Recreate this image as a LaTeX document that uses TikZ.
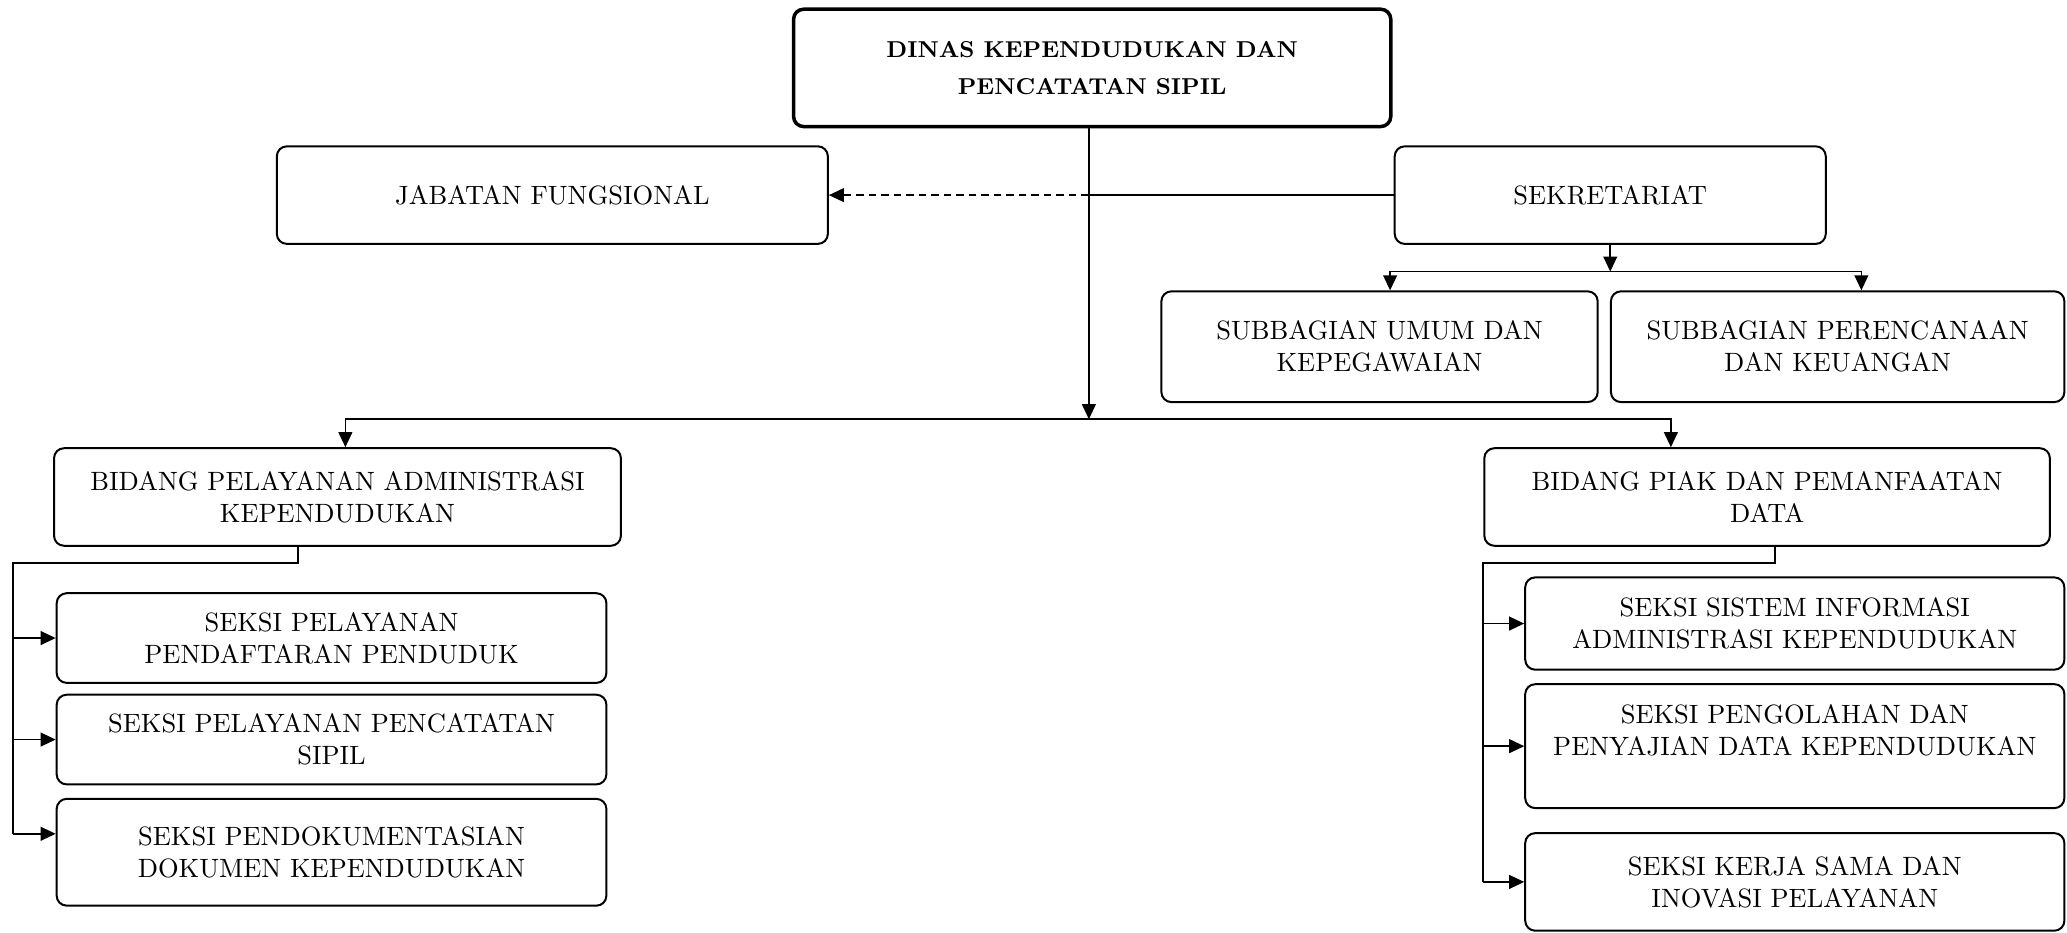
\documentclass[tikz,border=0pt]{standalone}
\usepackage{fontspec}
\usetikzlibrary{arrows.meta,calc}

\begin{document}
\begin{tikzpicture}
  [
    x=0.5275pt, y=-0.5275pt,
    boxsize/.style 2 args =
      {minimum width=#1*0.5275pt, minimum height=#2*0.5275pt},
    unit/.style =
      {draw, rounded corners=4pt, line width=0.8pt, align=center, inner sep=0pt,
       font=\fontsize{10.6}{12.8}\selectfont},
    head/.style =
      {unit, line width=1.4pt, font=\bfseries\fontsize{9.2}{14.7}\selectfont},
    link/.style =
      {line width=0.65pt, >={Triangle[length=6pt,width=5.5pt]}}
  ]

\useasboundingbox (0,0) rectangle (1568,707);

\node[head, boxsize={453}{89}] (dinas) at (828.5,51.5) {DINAS KEPENDUDUKAN DAN\\PENCATATAN SIPIL};

\node[unit, boxsize={418}{74}] (jabfung) at (419,148) {JABATAN FUNGSIONAL};
\node[unit, boxsize={327}{74}] (sekre) at (1221.5,148) {SEKRETARIAT};

\node[unit, boxsize={331}{84}] (subumum) at (1046.5,263) {SUBBAGIAN UMUM DAN\\KEPEGAWAIAN};
\node[unit, boxsize={344}{84}] (subren) at (1394,263) {SUBBAGIAN PERENCANAAN\\DAN KEUANGAN};

\node[unit, boxsize={430}{74}] (bidpel) at (256,377) {BIDANG PELAYANAN ADMINISTRASI\\KEPENDUDUKAN};
\node[unit, boxsize={429}{74}] (bidpiak) at (1340.5,377) {BIDANG PIAK DAN PEMANFAATAN\\DATA};

\node[unit, boxsize={417}{68}] (seksi1) at (251.5,484) {SEKSI PELAYANAN\\PENDAFTARAN PENDUDUK};
\node[unit, boxsize={417}{68}] (seksi2) at (251.5,561) {SEKSI PELAYANAN PENCATATAN\\SIPIL};
\node[unit, boxsize={417}{81}] (seksi3) at (251.5,646.5) {SEKSI PENDOKUMENTASIAN\\DOKUMEN KEPENDUDUKAN};

\node[unit, boxsize={409}{70}] (seksi4) at (1361.5,473) {SEKSI SISTEM INFORMASI\\ADMINISTRASI KEPENDUDUKAN};
\node[unit, boxsize={409}{94}] (seksi5) at (1361.5,566) {SEKSI PENGOLAHAN DAN\\PENYAJIAN DATA KEPENDUDUKAN\\\mbox{}};
\node[unit, boxsize={409}{74}] (seksi6) at (1361.5,669) {SEKSI KERJA SAMA DAN\\INOVASI PELAYANAN};

\coordinate (hub) at (826,318);
\coordinate (sbar) at (sekre.south |- 0,206);
\coordinate (lspine) at (10,427);
\coordinate (rspine) at (1125,427);

\draw [->, link] (dinas.south -| hub) -- (hub);
\draw [link] (sekre.west) -- (sekre.west -| hub);
\draw [->, link, dash pattern=on 3pt off 2pt] (jabfung.east -| hub) -- (jabfung.east);

\draw [->, link] (sekre.south) -- (sbar);
\draw [<->, link] ($(subumum.north)+(8,0)$) |- (sbar) -| ($(subren.north)+(18,0)$);

\draw [<->, link] ($(bidpel.north)+(6,0)$) |- (hub) -| ($(bidpiak.north)+(-73,0)$);

\draw [link] ($(bidpel.south)+(-30,0)$) |- (lspine) -- ($(lspine |- seksi3.west)+(0,-14)$);
\draw [->, link] (lspine |- seksi1.west) -- (seksi1.west);
\draw [->, link] (lspine |- seksi2.west) -- (seksi2.west);
\draw [->, link] ($(lspine |- seksi3.west)+(0,-14)$) -- ($(seksi3.west)+(0,-14)$);

\draw [link] ($(bidpiak.south)+(6,0)$) |- (rspine) -- (rspine |- seksi6.west);
\draw [->, link] (rspine |- seksi4.west) -- (seksi4.west);
\draw [->, link] (rspine |- seksi5.west) -- (seksi5.west);
\draw [->, link] (rspine |- seksi6.west) -- (seksi6.west);

\end{tikzpicture}
\end{document}
